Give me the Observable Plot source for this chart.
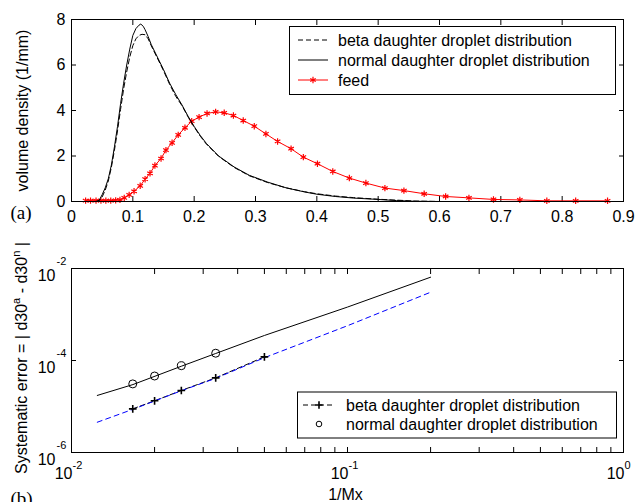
<!DOCTYPE html>
<html><head><meta charset="utf-8">
<script src="https://cdn.jsdelivr.net/npm/d3@7"></script>
<script src="https://cdn.jsdelivr.net/npm/@observablehq/plot@0.6"></script>
<style>
html,body{margin:0;padding:0;background:#fff;}
#wrap{position:relative;width:637px;height:502px;overflow:hidden;}
#wrap svg{position:absolute;left:0;display:block;}
</style></head><body><div id="wrap"></div>
<script>
// ---------- Panel (a): volume density (1/mm) vs droplet size ----------
const normalX = [0.040,0.045,0.050,0.055,0.060,0.065,0.070,0.075,0.080,0.085,0.090,0.095,0.100,0.105,0.110,0.113,0.117,0.120,0.125,0.130,0.140,0.150,0.160,0.170,0.180,0.190,0.200,0.210,0.220,0.240,0.265,0.290,0.320,0.350,0.380,0.400,0.430,0.460,0.500,0.530,0.560,0.600,0.700,0.800,0.895];
const normalY = [0.00,0.05,0.30,0.60,1.00,1.60,2.40,3.30,4.30,5.20,6.00,6.70,7.30,7.60,7.75,7.80,7.70,7.55,7.25,6.90,6.35,5.80,5.20,4.70,4.25,3.75,3.30,2.90,2.55,2.00,1.52,1.15,0.85,0.60,0.42,0.32,0.22,0.15,0.09,0.04,0.01,0.00,0.00,0.00,0.00];
const betaX = [0.040,0.045,0.050,0.055,0.060,0.065,0.070,0.075,0.080,0.085,0.090,0.095,0.100,0.105,0.110,0.115,0.120,0.125,0.130,0.140,0.150,0.160,0.170,0.180,0.190,0.200,0.210,0.220,0.240,0.265,0.290,0.320,0.350,0.380,0.400,0.430,0.460,0.500,0.530,0.560,0.600,0.700,0.800,0.895];
const betaY = [0.00,0.03,0.20,0.50,0.90,1.50,2.25,3.10,4.05,4.95,5.70,6.35,6.85,7.15,7.30,7.35,7.33,7.15,6.85,6.30,5.75,5.15,4.62,4.22,3.72,3.27,2.87,2.52,1.98,1.50,1.13,0.83,0.60,0.43,0.34,0.24,0.17,0.10,0.06,0.02,0.00,0.00,0.00,0.00];
const feedX = [0.023,0.031,0.040,0.048,0.056,0.064,0.072,0.079,0.086,0.094,0.102,0.112,0.120,0.128,0.136,0.146,0.154,0.164,0.174,0.185,0.196,0.208,0.221,0.235,0.249,0.264,0.280,0.298,0.317,0.336,0.358,0.378,0.401,0.426,0.453,0.480,0.511,0.542,0.575,0.610,0.648,0.688,0.731,0.775,0.822,0.874];
const feedY = [0.04,0.04,0.04,0.04,0.04,0.04,0.05,0.07,0.16,0.29,0.45,0.69,0.98,1.24,1.58,1.89,2.26,2.58,2.93,3.24,3.53,3.71,3.87,3.94,3.90,3.78,3.56,3.31,2.97,2.64,2.32,1.95,1.66,1.32,1.03,0.81,0.59,0.48,0.34,0.22,0.16,0.09,0.07,0.03,0.03,0.03];
const xTicksA = [0,0.1,0.2,0.3,0.4,0.5,0.6,0.7,0.8,0.9];
const yTicksA = [0,2,4,6,8];
const legendA = ["beta daughter droplet distribution","normal daughter droplet distribution","feed"];

// ---------- Panel (b): systematic error vs 1/Mx (log-log) ----------
const normPtsX = [0.01667,0.02,0.025,0.0333];
const normPtsY = [3.1e-5,4.6e-5,7.7e-5,1.44e-4];
const normFitX = [0.0124,0.0167,0.025,0.0333,0.05,0.1,0.2];
const normFitY = [1.74e-5,3.0e-5,7.5e-5,1.42e-4,3.5e-4,1.45e-3,6.47e-3];
const betaPtsX = [0.01667,0.02,0.025,0.0333,0.05];
const betaPtsY = [8.9e-6,1.33e-5,2.23e-5,4.2e-5,1.2e-4];
const betaFitX = [0.0124,0.0167,0.025,0.0333,0.05,0.1,0.2];
const betaFitY = [4.55e-6,8.7e-6,2.2e-5,4.1e-5,1.15e-4,5.7e-4,3.05e-3];
const xMinorB = [0.01,0.02,0.03,0.04,0.05,0.06,0.07,0.08,0.09,0.1,0.2,0.3,0.4,0.5,0.6,0.7,0.8,0.9,1];
const xDecadesB = [0.01,0.1,1];
const yDecadesB = [1e-6,1e-4,1e-2];
const legendB = ["beta daughter droplet distribution","normal daughter droplet distribution"];

const FONT = '"Liberation Sans", Arial, Helvetica, sans-serif';
const SERIF = '"Liberation Serif", "Times New Roman", serif';
const TICK = 5;
const zip = (xs, ys) => xs.map((x, i) => ({x, y: ys[i]}));
const wrap = document.getElementById("wrap");

// inward tick marks on all four sides (ticks only, no labels)
function boxTicksX(ticks) {
  return [
    Plot.axisX(ticks, {anchor: "bottom", tickSize: TICK, dy: -TICK, tickFormat: () => "", label: null}),
    Plot.axisX(ticks, {anchor: "top", tickSize: TICK, dy: TICK, tickFormat: () => "", label: null})
  ];
}
function boxTicksY(ticks) {
  return [
    Plot.axisY(ticks, {anchor: "left", tickSize: TICK, dx: TICK, tickFormat: () => "", label: null}),
    Plot.axisY(ticks, {anchor: "right", tickSize: TICK, dx: -TICK, tickFormat: () => "", label: null})
  ];
}

// ----- Panel (a) -----
const plotA = Plot.plot({
  width: 637, height: 240,
  marginLeft: 71, marginRight: 14, marginTop: 19, marginBottom: 39,
  style: {fontFamily: FONT, fontSize: "16px", background: "white", color: "black", overflow: "visible"},
  x: {domain: [0, 0.9], label: null},
  y: {domain: [0, 8], label: null},
  marks: [
    ...boxTicksX(xTicksA),
    ...boxTicksY(yTicksA),
    Plot.axisX(xTicksA, {anchor: "bottom", tickSize: 0, tickPadding: 9, tickFormat: d => String(+d.toFixed(1)), label: null}),
    Plot.axisY(yTicksA, {anchor: "left", tickSize: 0, tickPadding: 6, tickFormat: d => String(d), label: null}),
    Plot.line(zip(feedX, feedY), {x: "x", y: "y", stroke: "#ff0000", strokeWidth: 1}),
    Plot.dot(zip(feedX, feedY), {x: "x", y: "y", symbol: "asterisk", r: 3, stroke: "#ff0000", strokeWidth: 1.2}),
    Plot.line(zip(betaX, betaY), {x: "x", y: "y", stroke: "black", strokeWidth: 1, strokeDasharray: "5,3"}),
    Plot.line(zip(normalX, normalY), {x: "x", y: "y", stroke: "black", strokeWidth: 1}),
    Plot.frame({stroke: "black", strokeWidth: 1}),
    Plot.text(["volume density (1/mm)"], {frameAnchor: "left", text: d => d, dx: -44, rotate: -90, textAnchor: "middle", lineAnchor: "bottom", fontSize: 16}),
    Plot.text(["(a)"], {frameAnchor: "bottom-left", text: d => d, dx: -61, dy: 17, textAnchor: "start", lineAnchor: "bottom", fontFamily: SERIF, fontSize: 19})
  ]
});
plotA.style.top = "0px";
wrap.appendChild(plotA);

// legend (a)
{
  const svg = d3.select(plotA);
  const g = svg.append("g").attr("font-family", FONT).attr("font-size", 16).attr("text-anchor", "start");
  g.append("rect").attr("x", 289.5).attr("y", 26.5).attr("width", 326).attr("height", 68)
    .attr("fill", "white").attr("stroke", "black").attr("stroke-width", 1);
  const rows = [40, 60, 80];
  const styles = [
    {stroke: "black", dash: "5,3"},
    {stroke: "black", dash: null},
    {stroke: "#ff0000", dash: null, marker: true}
  ];
  legendA.forEach((label, i) => {
    const y = rows[i];
    const s = styles[i];
    g.append("line").attr("x1", 298).attr("x2", 328).attr("y1", y).attr("y2", y)
      .attr("stroke", s.stroke).attr("stroke-width", 1).attr("stroke-dasharray", s.dash);
    if (s.marker) {
      g.append("path").attr("d", d3.symbol(d3.symbolAsterisk, 28)()).attr("transform", `translate(313,${y})`)
        .attr("fill", "none").attr("stroke", s.stroke).attr("stroke-width", 1.2);
    }
    g.append("text").attr("x", 338).attr("y", y + 5.5).attr("fill", "black").attr("text-anchor", "start").text(label);
  });
}

// ----- Panel (b) -----
const plotB = Plot.plot({
  width: 637, height: 262,
  marginLeft: 71, marginRight: 14, marginTop: 28, marginBottom: 50,
  style: {fontFamily: FONT, fontSize: "16px", background: "white", color: "black", overflow: "visible"},
  x: {type: "log", domain: [0.01, 1], label: null},
  y: {type: "log", domain: [1e-6, 1e-2], label: null},
  marks: [
    ...boxTicksX(xMinorB),
    ...boxTicksY(yDecadesB),
    // x decade labels: 10 with superscript exponent
    Plot.text(xDecadesB, {x: d => d, frameAnchor: "bottom", text: () => "10", dx: 1, dy: 26, textAnchor: "end", lineAnchor: "bottom", fontSize: 16}),
    Plot.text(xDecadesB, {x: d => d, frameAnchor: "bottom", text: d => String(Math.round(Math.log10(d))), dx: 1, dy: 16, textAnchor: "start", lineAnchor: "bottom", fontSize: 11}),
    // y decade labels
    Plot.text(yDecadesB, {y: d => d, frameAnchor: "left", text: () => "10", dx: -16, dy: 12, textAnchor: "end", lineAnchor: "bottom", fontSize: 16}),
    Plot.text(yDecadesB, {y: d => d, frameAnchor: "left", text: d => String(Math.round(Math.log10(d))), dx: -15, dy: -4, textAnchor: "start", lineAnchor: "bottom", fontSize: 11}),
    Plot.line(zip(normFitX, normFitY), {x: "x", y: "y", stroke: "black", strokeWidth: 1}),
    Plot.dot(zip(normPtsX, normPtsY), {x: "x", y: "y", r: 4, stroke: "black", fill: "none", strokeWidth: 1}),
    Plot.line(zip(betaPtsX, betaPtsY), {x: "x", y: "y", stroke: "black", strokeWidth: 1, strokeDasharray: "5,3"}),
    Plot.line(zip(betaFitX, betaFitY), {x: "x", y: "y", stroke: "#0000ff", strokeWidth: 1, strokeDasharray: "5,4"}),
    Plot.dot(zip(betaPtsX, betaPtsY), {x: "x", y: "y", symbol: "plus", r: 2.6, stroke: "black", strokeWidth: 1.6}),
    Plot.frame({stroke: "black", strokeWidth: 1}),
    Plot.text(["1/Mx"], {frameAnchor: "bottom", text: d => d, dx: -2, dy: 47, textAnchor: "middle", lineAnchor: "bottom", fontSize: 16}),
    Plot.text(["(b)"], {frameAnchor: "bottom-left", text: d => d, dx: -61, dy: 52, textAnchor: "start", lineAnchor: "bottom", fontFamily: SERIF, fontSize: 19})
  ]
});
plotB.style.top = "240px";
wrap.appendChild(plotB);

{
  const svg = d3.select(plotB);
  // y-axis label with superscripts
  const t = svg.append("text").attr("font-family", FONT).attr("font-size", 16).attr("fill", "black")
    .attr("text-anchor", "middle").attr("transform", "translate(27,118) rotate(-90)");
  t.append("tspan").text("Systematic error = | d30");
  t.append("tspan").attr("font-size", 11).attr("dy", -7).text("a");
  t.append("tspan").attr("dy", 7).text(" - d30");
  t.append("tspan").attr("font-size", 11).attr("dy", -7).text("n");
  t.append("tspan").attr("dy", 7).text(" |");

  // legend (b)
  const g = svg.append("g").attr("font-family", FONT).attr("font-size", 16).attr("text-anchor", "start");
  g.append("rect").attr("x", 297.5).attr("y", 152).attr("width", 319).attr("height", 46)
    .attr("fill", "white").attr("stroke", "black").attr("stroke-width", 1);
  const y1 = 165, y2 = 184;
  g.append("line").attr("x1", 303).attr("x2", 335).attr("y1", y1).attr("y2", y1)
    .attr("stroke", "black").attr("stroke-width", 1).attr("stroke-dasharray", "5,3");
  g.append("path").attr("d", d3.symbol(d3.symbolPlus, 20)()).attr("transform", `translate(319,${y1})`)
    .attr("fill", "none").attr("stroke", "black").attr("stroke-width", 1.6);
  g.append("circle").attr("cx", 319).attr("cy", y2).attr("r", 2.8).attr("fill", "none").attr("stroke", "black");
  g.append("text").attr("x", 346).attr("y", y1 + 5.5).attr("fill", "black").attr("text-anchor", "start").text(legendB[0]);
  g.append("text").attr("x", 346).attr("y", y2 + 5.5).attr("fill", "black").attr("text-anchor", "start").text(legendB[1]);
}
</script>
</body></html>
